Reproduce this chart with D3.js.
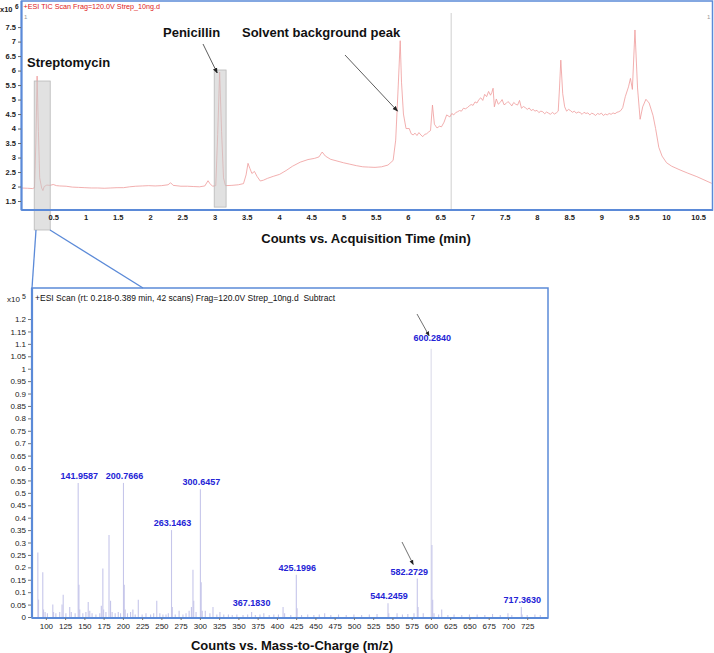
<!DOCTYPE html>
<html><head><meta charset="utf-8">
<script src="https://cdn.jsdelivr.net/npm/d3@7"></script>
<style>
body{margin:0;background:#fff;}
svg{display:block;font-family:"Liberation Sans",Arial,sans-serif;}
</style></head>
<body>
<svg id="chart" width="714" height="653"></svg>
<script>
// ---------- TIC chromatogram data (x10^6 counts vs min) ----------
const ticTime = [0.00,0.10,0.18,0.21,0.23,0.25,0.27,0.29,0.32,0.34,0.36,0.40,0.45,0.50,0.55,0.60,0.70,0.795,0.89,0.99,1.09,1.19,1.29,1.39,1.49,1.59,1.685,1.78,1.88,1.98,2.08,2.18,2.28,2.32,2.36,2.48,2.58,2.67,2.77,2.85,2.90,2.93,2.97,3.02,3.05,3.08,3.11,3.14,3.17,3.27,3.37,3.45,3.49,3.52,3.55,3.58,3.62,3.66,3.71,3.76,3.82,3.91,4.01,4.11,4.21,4.33,4.45,4.55,4.62,4.67,4.72,4.80,4.90,5.00,5.10,5.20,5.30,5.39,5.49,5.59,5.69,5.77,5.81,5.85,5.88,5.90,5.93,5.97,
  6.02,6.05,6.08,6.11,6.14,6.17,6.20,6.23,6.26,6.29,6.32,6.35,6.38,6.41,6.45,6.49,6.52,6.56,6.60,
  6.65,6.68,6.71,6.74,6.77,6.80,6.83,6.86,6.89,6.92,6.95,6.98,7.01,7.04,7.07,7.10,7.13,7.16,7.19,7.22,7.25,7.28,7.30,7.32,7.34,7.37,7.40,7.43,7.46,7.49,7.52,7.55,7.58,7.61,7.64,7.67,7.70,7.73,7.76,7.79,7.82,7.85,7.88,7.91,7.94,7.97,8.00,8.03,8.06,8.09,8.12,8.15,8.18,8.21,8.24,8.27,8.30,8.33,8.35,8.37,8.40,8.43,8.46,8.49,8.52,8.55,8.58,8.61,8.64,8.67,8.70,8.73,8.76,8.79,8.82,8.85,8.88,8.91,8.94,8.97,9.00,9.03,9.06,9.09,9.12,9.15,9.18,9.21,9.24,9.27,9.30,9.33,9.37,
  9.42,9.45,9.48,9.52,9.56,9.60,9.64,9.69,9.74,9.80,9.84,9.89,9.94,10.01,10.09,10.22,10.34,10.48,10.59,10.71];
const ticCounts = [1.95,1.94,1.93,1.96,3.5,5.81,3.9,2.3,1.95,1.86,2.0,2.05,2.04,2.07,2.03,2.02,2.01,1.98,1.97,1.96,1.95,1.95,1.94,1.95,1.96,1.96,1.99,2.01,2.02,2.03,2.02,2.03,2.06,2.13,2.04,2.01,2.01,2.00,1.99,2.02,2.2,2.1,2.01,2.03,3.8,5.95,3.9,2.3,2.03,2.04,2.06,2.10,2.4,2.80,2.62,2.45,2.52,2.35,2.19,2.22,2.28,2.35,2.42,2.55,2.70,2.84,2.93,2.97,3.02,3.19,3.05,2.94,2.88,2.82,2.77,2.72,2.68,2.67,2.66,2.68,2.74,2.90,3.6,5.5,7.03,5.6,4.5,4.0,
  4.0,3.82,3.78,3.84,3.76,3.86,3.78,3.72,3.80,3.82,3.88,3.93,4.81,4.15,4.02,4.08,4.06,4.22,4.47,
  4.40,4.52,4.47,4.55,4.58,4.62,4.60,4.70,4.68,4.72,4.78,4.83,4.80,4.92,4.88,5.00,5.06,4.97,5.18,5.10,5.28,5.15,5.24,5.39,4.75,
  5.02,4.84,4.90,5.00,4.82,4.86,4.93,4.87,4.78,4.90,4.84,4.81,4.97,4.70,4.76,4.72,4.66,4.71,4.62,4.66,4.60,4.63,4.55,4.60,4.58,4.51,4.57,4.53,4.49,4.56,4.50,4.54,4.60,
  5.40,6.36,5.20,
  4.75,4.60,4.66,4.62,4.56,4.60,4.53,4.57,4.55,4.49,4.56,4.52,4.54,4.47,4.53,4.50,4.45,4.52,4.49,4.53,4.45,4.50,4.47,4.52,4.49,4.54,4.51,4.56,4.58,4.62,4.72,5.10,
  5.44,5.73,5.35,7.40,5.40,4.32,4.75,5.01,4.88,4.45,4.00,3.35,3.05,2.82,2.70,2.57,2.46,2.34,2.23,2.11];
const ticXTicks = [0.5,1,1.5,2,2.5,3,3.5,4,4.5,5,5.5,6,6.5,7,7.5,8,8.5,9,9.5,10,10.5];
const ticYTicks = [1.5,2,2.5,3,3.5,4,4.5,5,5.5,6,6.5,7,7.5];
// highlighted windows [start, end, top] in min / x10^6
const strepWindow = [0.205, 0.453, 5.64];
const peniWindow = [2.996, 3.18, 6.02];
const markerTime = 6.67;

// ---------- Mass spectrum data (x10^5 counts vs m/z) ----------
const msMz = [89.6,90.5,96.0,97,99,102,109,110,113,118,121,122.5,126,131,133,138,141.96,142.96,144,148,152,155,157,160,165,170,172,174,175,178,182,184,186,190,194,197,200.77,201.77,203,206,210,213,216,220,225,230,236,240,244,248,252,256,259,263.15,264.15,268,273,278,282,286,289,291,292,295,300.65,301.65,303,307,313,317,322,326,331,337,342,348,356,362,367.18,372,378,383,390,396,402,408,410,418,425.2,426.2,432,440,448,455,462,470,480,490,500,510,520,530,544.25,545.25,556,563,570,578,582.27,583.27,590,600.28,601.28,602.28,604,610,614,622,630,640,650,660,670,680,690,700,705,717.36,718.36,725,735,742];
const msIntensity = [0.26,0.07,0.18,0.03,0.02,0.015,0.05,0.02,0.015,0.02,0.05,0.09,0.015,0.04,0.02,0.015,0.54,0.13,0.03,0.015,0.02,0.06,0.025,0.015,0.01,0.015,0.045,0.195,0.03,0.02,0.33,0.065,0.02,0.015,0.02,0.015,0.54,0.13,0.03,0.015,0.02,0.03,0.01,0.07,0.01,0.015,0.01,0.015,0.065,0.015,0.01,0.01,0.015,0.35,0.04,0.01,0.025,0.01,0.015,0.025,0.04,0.19,0.065,0.02,0.515,0.14,0.025,0.025,0.015,0.04,0.01,0.02,0.01,0.01,0.008,0.01,0.008,0.01,0.02,0.008,0.01,0.015,0.008,0.01,0.01,0.04,0.015,0.008,0.17,0.035,0.008,0.01,0.008,0.01,0.015,0.008,0.01,0.008,0.01,0.008,0.01,0.012,0.055,0.015,0.015,0.01,0.012,0.015,0.155,0.04,0.015,1.08,0.29,0.07,0.015,0.01,0.03,0.008,0.01,0.008,0.01,0.01,0.008,0.012,0.008,0.015,0.008,0.04,0.01,0.008,0.01,0.008];
const labelMz = [141.96,200.77,263.15,300.65,367.18,425.2,544.25,582.27,600.28,717.36];
const labelText = ["141.9587","200.7666","263.1463","300.6457","367.1830","425.1996","544.2459","582.2729","600.2840","717.3630"];
const msXTicks = d3.range(100, 726, 25);
const msYTicks = d3.range(0, 1.2001, 0.05).map(v => +v.toFixed(2));

const svg = d3.select("#chart");
const frameBlue = "#5b8ad8";

// ================= TOP: TIC =================
const tx = d3.scaleLinear().domain([0, 10.73]).range([21, 713]);
const ty = d3.scaleLinear().domain([1.19, 8.40]).range([210, 1]);

const topG = svg.append("g");
topG.append("line").attr("x1", tx(markerTime)).attr("x2", tx(markerTime))
  .attr("y1", 13).attr("y2", ty(1.19)).attr("stroke", "#cfcfcf").attr("stroke-width", 1);

const line = d3.line().x((d,i) => tx(ticTime[i])).y(d => ty(d));
topG.append("path").datum(ticCounts).attr("d", line)
  .attr("fill", "none").attr("stroke", "#ef9a9a").attr("stroke-width", 0.8);

topG.append("rect").attr("x", tx(strepWindow[0])).attr("width", tx(strepWindow[1]) - tx(strepWindow[0]))
  .attr("y", ty(strepWindow[2])).attr("height", ty(0.50) - ty(strepWindow[2]))
  .attr("fill", "rgba(200,200,200,0.55)").attr("stroke", "#b8b8b8").attr("stroke-width", 0.8);
topG.append("rect").attr("x", tx(peniWindow[0])).attr("width", tx(peniWindow[1]) - tx(peniWindow[0]))
  .attr("y", ty(peniWindow[2])).attr("height", ty(1.29) - ty(peniWindow[2]))
  .attr("fill", "rgba(200,200,200,0.55)").attr("stroke", "#b8b8b8").attr("stroke-width", 0.8);

topG.append("rect").attr("x", 21.5).attr("y", 1).attr("width", 691).attr("height", 209)
  .attr("fill", "none").attr("stroke", frameBlue).attr("stroke-width", 1.5);
topG.append("line").attr("x1", 21.5).attr("x2", 713).attr("y1", 210).attr("y2", 210).attr("stroke", frameBlue).attr("stroke-width", 2);
topG.append("line").attr("x1", 21.5).attr("x2", 21.5).attr("y1", 1).attr("y2", 210).attr("stroke", frameBlue).attr("stroke-width", 2);

const tyAxis = topG.append("g").attr("transform", "translate(21,0)")
  .call(d3.axisLeft(ty).tickValues(ticYTicks).tickSize(3).tickPadding(2).tickFormat(d => String(d)));
tyAxis.select(".domain").remove();
tyAxis.selectAll("line").attr("stroke", "#666");
tyAxis.selectAll("text").attr("font-size", 7.5).attr("font-weight", "bold").attr("fill", "#222");

const txAxis = topG.append("g").attr("transform", "translate(0,210)")
  .call(d3.axisBottom(tx).tickValues(ticXTicks).tickSize(0).tickPadding(5).tickFormat(d => String(d)));
txAxis.select(".domain").remove();
txAxis.selectAll("text").attr("font-size", 7.5).attr("font-weight", "bold").attr("fill", "#222");

topG.append("text").attr("x", 0).attr("y", 12).attr("font-size", 7.5).attr("font-weight", "bold").attr("fill", "#222").text("x10");
topG.append("text").attr("x", 15).attr("y", 9).attr("font-size", 6.5).attr("font-weight", "bold").attr("fill", "#222").text("6");
topG.append("text").attr("x", 23.5).attr("y", 9).attr("font-size", 7.2).attr("fill", "#e02020").text("+ESI TIC Scan Frag=120.0V Strep_10ng.d");
topG.append("text").attr("x", 24).attr("y", 19).attr("font-size", 6).attr("fill", "#999").text("1");
topG.append("text").attr("x", 707).attr("y", 19).attr("font-size", 6).attr("fill", "#999").text("1");

topG.append("text").attr("x", 27).attr("y", 67).attr("font-size", 13).attr("font-weight", "bold").attr("fill", "#111").text("Streptomycin");
topG.append("text").attr("x", 163).attr("y", 37).attr("font-size", 13).attr("font-weight", "bold").attr("fill", "#111").text("Penicillin");
topG.append("text").attr("x", 242).attr("y", 37).attr("font-size", 13).attr("font-weight", "bold").attr("fill", "#111").text("Solvent background peak");
topG.append("text").attr("x", 366).attr("y", 243).attr("text-anchor", "middle").attr("font-size", 13).attr("font-weight", "bold").attr("fill", "#111").text("Counts vs. Acquisition Time (min)");

const defs = svg.append("defs");
defs.append("marker").attr("id", "ah").attr("viewBox", "0 0 10 10").attr("refX", 9).attr("refY", 5)
  .attr("markerWidth", 7).attr("markerHeight", 7).attr("orient", "auto")
  .append("path").attr("d", "M0,1 L10,5 L0,9 Z").attr("fill", "#222");
function arrow(x1, y1, x2, y2, w) {
  svg.append("line").attr("x1", x1).attr("y1", y1).attr("x2", x2).attr("y2", y2)
    .attr("stroke", "#333").attr("stroke-width", w || 0.8).attr("marker-end", "url(#ah)");
}
arrow(203, 44, tx(peniWindow[0]) + 3, ty(peniWindow[2]) + 3);
arrow(345, 55, tx(5.87) - 2, ty(4.6));

svg.append("line").attr("x1", 36).attr("y1", 230).attr("x2", 32).attr("y2", 288).attr("stroke", frameBlue).attr("stroke-width", 1.3);
svg.append("line").attr("x1", 50).attr("y1", 230).attr("x2", 143).attr("y2", 288).attr("stroke", frameBlue).attr("stroke-width", 1.3);

// ================= BOTTOM: Mass spectrum =================
const mx = d3.scaleLinear().domain([82, 752]).range([32, 548]);
const my = d3.scaleLinear().domain([-0.004, 1.325]).range([618, 288]);
const ms = svg.append("g");

ms.selectAll("line.peak").data(msMz).enter().append("line").attr("class", "peak")
  .attr("x1", d => mx(d)).attr("x2", d => mx(d))
  .attr("y1", my(0)).attr("y2", (d,i) => my(msIntensity[i]))
  .attr("stroke", (d,i) => msIntensity[i] > 0.8 ? "#dcdcea" : "#c6c6ea").attr("stroke-width", 1.1);

ms.append("rect").attr("x", 32).attr("y", 288).attr("width", 516).attr("height", 330)
  .attr("fill", "none").attr("stroke", frameBlue).attr("stroke-width", 1.5);
ms.append("line").attr("x1", 32).attr("x2", 32).attr("y1", 288).attr("y2", 618).attr("stroke", frameBlue).attr("stroke-width", 2.2);
ms.append("line").attr("x1", 32).attr("x2", 548).attr("y1", 618).attr("y2", 618).attr("stroke", frameBlue).attr("stroke-width", 2.2);

const myAxis = ms.append("g").attr("transform", "translate(31,0)")
  .call(d3.axisLeft(my).tickValues(msYTicks).tickSize(3).tickPadding(2).tickFormat(d => String(d)));
myAxis.select(".domain").remove();
myAxis.selectAll("line").attr("stroke", "#777");
myAxis.selectAll("text").attr("font-size", 8).attr("fill", "#222");

const mxAxis = ms.append("g").attr("transform", "translate(0,618)")
  .call(d3.axisBottom(mx).tickValues(msXTicks).tickSize(2).tickPadding(3).tickFormat(d => String(d)));
mxAxis.select(".domain").remove();
mxAxis.selectAll("line").attr("stroke", "#777");
mxAxis.selectAll("text").attr("font-size", 8).attr("fill", "#222");

ms.append("text").attr("x", 7).attr("y", 302).attr("font-size", 8).attr("fill", "#222").text("x10");
ms.append("text").attr("x", 22).attr("y", 299).attr("font-size", 7).attr("fill", "#222").text("5");
ms.append("text").attr("x", 35).attr("y", 301).attr("font-size", 8.5).attr("fill", "#111")
  .style("white-space", "pre")
  .text("+ESI Scan (rt: 0.218-0.389 min, 42 scans) Frag=120.0V Strep_10ng.d  Subtract");

labelMz.forEach((m, i) => {
  const k = msMz.indexOf(m);
  const v = msIntensity[k];
  const shift = m === 582.27 ? -8 : (m === 367.18 ? 0 : 1);
  const lift = m === 367.18 ? 6 : 4;
  ms.append("text").attr("x", mx(m) + shift).attr("y", my(v) - lift - (m === 600.28 ? 4 : 0))
    .attr("text-anchor", "middle").attr("font-size", 9).attr("font-weight", "bold").attr("fill", "#2323d6")
    .text(labelText[i]);
});
arrow(417, 314, mx(600.28) - 2, my(1.08) - 13, 0.7);
arrow(402, 542, mx(582.27) - 4, my(0.155) - 14, 0.7);

ms.append("text").attr("x", 292).attr("y", 650).attr("text-anchor", "middle").attr("font-size", 13).attr("font-weight", "bold").attr("fill", "#111").text("Counts vs. Mass-to-Charge (m/z)");
</script>
</body></html>
